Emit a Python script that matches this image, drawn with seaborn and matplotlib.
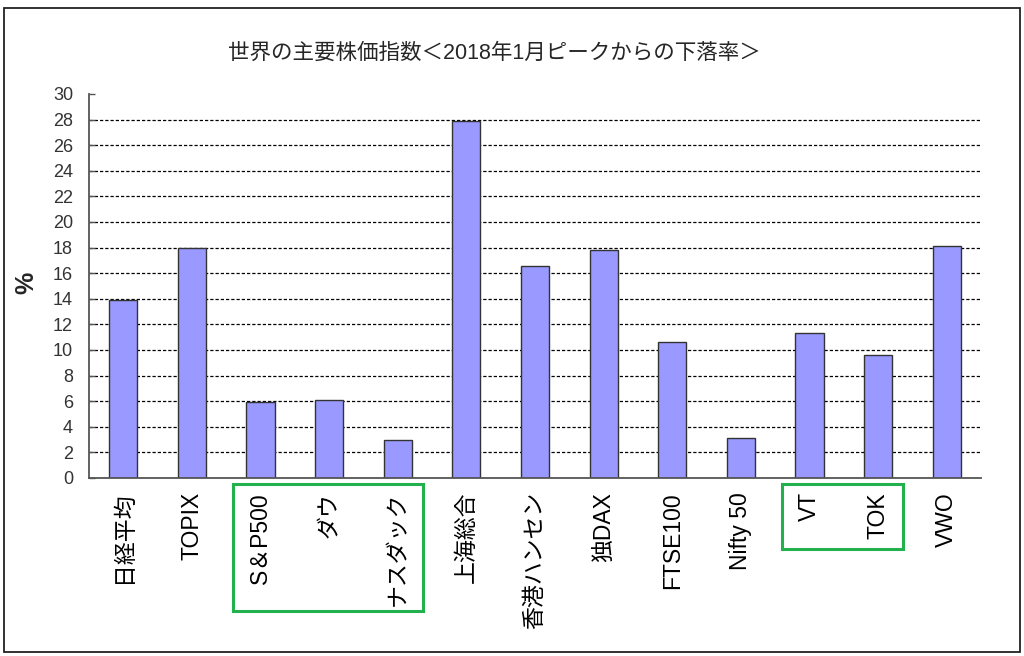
import matplotlib
matplotlib.use("Agg")
import matplotlib.pyplot as plt
import matplotlib.patches as mpatches
import matplotlib.transforms as mtransforms
import seaborn as sns
import pandas as pd

# ---- data ----
categories = ["日経平均", "TOPIX", "S＆P500", "ダウ", "ナスダック", "上海総合",
              "香港ハンセン", "独DAX", "FTSE100", "Nifty 50", "VT", "TOK", "VWO"]
decline_pct = [13.9, 18.0, 5.9, 6.1, 3.0, 27.9, 16.6, 17.8, 10.6, 3.1, 11.3, 9.6, 18.1]
y_ticks = list(range(0, 31, 2))
title_text = "世界の主要株価指数＜2018年1月ピークからの下落率＞"
y_label = "%"
highlight_groups = [(2, 4), (10, 11)]   # category index ranges boxed in green

sns.set_theme(style="white")
plt.rcParams["font.family"] = ["Liberation Sans", "Noto Sans CJK JP", "DejaVu Sans"]

df = pd.DataFrame({"index": categories, "value": decline_pct})

W, H = 1024, 656
fig = plt.figure(figsize=(W / 100, H / 100), dpi=100)
ax = fig.add_axes([89 / W, 1 - 478 / H, (981 - 89) / W, (478 - 94) / H])

sns.barplot(data=df, x="index", y="value", order=categories, color="#9999FF",
            saturation=1, edgecolor="#333333", linewidth=1.0, width=0.41, ax=ax,
            zorder=2)

ax.set_ylim(0, 30)
ax.set_xlim(-0.5, len(categories) - 0.5)
ax.set_yticks(y_ticks)
ax.set_yticklabels([str(t) for t in y_ticks])
ax.hlines(y_ticks[1:-1], -0.5, len(categories) - 0.5, colors="black",
          linestyles=(0, (2.6, 1.6)), linewidth=0.9, zorder=0.5)

for s in ["top", "right"]:
    ax.spines[s].set_visible(False)
for s in ["left", "bottom"]:
    ax.spines[s].set_color("#555555")
    ax.spines[s].set_linewidth(1.3)

ax.tick_params(axis="y", direction="in", length=4.5, width=1.0, color="#555555",
               pad=11.5, labelsize=13, labelcolor="#333333", left=True)
ax.tick_params(axis="x", length=0, pad=10, labelsize=16.5, labelcolor="black")
for lab in ax.get_xticklabels():
    lab.set_rotation(90)
    lab.set_ha("center")
    lab.set_va("top")
ax.set_xlabel("")
ax.set_ylabel("")

fig.text(494 / W, 1 - 53 / H, title_text, ha="center", va="center", fontsize=15.5)
fig.text(26 / W, 1 - 283 / H, y_label, ha="center", va="center", rotation=90,
         fontsize=18, fontweight="bold")

# green highlight boxes (x in data units, y in figure fraction)
trans = mtransforms.blended_transform_factory(ax.transData, fig.transFigure)
box_bottoms_px = [611, 549]
for (i0, i1), bot in zip(highlight_groups, box_bottoms_px):
    x0 = i0 - 0.405
    x1 = i1 + 0.37
    y_top = 1 - 484 / H
    y_bot = 1 - bot / H
    rect = mpatches.Rectangle((x0, y_bot), x1 - x0, y_top - y_bot, transform=trans,
                              fill=False, edgecolor="#22B14C", linewidth=2.2,
                              clip_on=False)
    fig.add_artist(rect)

# outer border
border = mpatches.Rectangle((4.3 / W, 1 - 652.3 / H), (1020 - 4.3) / W,
                            (652.3 - 8.3) / H, transform=fig.transFigure,
                            fill=False, edgecolor="#222222", linewidth=1.3)
fig.add_artist(border)

fig.savefig("out.png", dpi=100, facecolor="white")
